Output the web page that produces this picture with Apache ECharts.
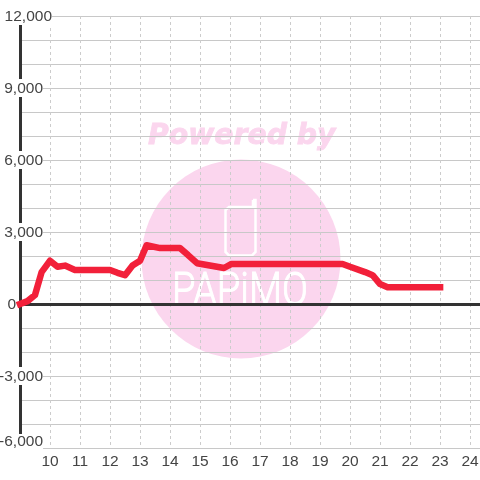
<!DOCTYPE html>
<html>
<head>
<meta charset="utf-8">
<style>html,body{margin:0;padding:0;background:#fff}#chart{width:480px;height:480px}</style>
<script src="https://cdn.jsdelivr.net/npm/echarts@6/dist/echarts.min.js"></script>
</head>
<body>
<div id="chart"></div>
<script>
let hours = [9, 9.25, 9.5, 9.72, 10, 10.25, 10.5, 10.83, 12, 12.25, 12.5, 12.75, 13, 13.22, 13.67, 14.33, 14.6, 14.9, 15.8, 16.05, 19.75, 20, 20.5, 20.75, 21, 21.25, 23];
let values = [0, 120, 375, 1330, 1800, 1550, 1600, 1420, 1420, 1300, 1200, 1600, 1800, 2450, 2330, 2330, 2040, 1700, 1500, 1670, 1670, 1550, 1330, 1200, 830, 700, 700];
let yLabelValues = [12000, 9000, 6000, 3000, 0, -3000, -6000];
let yLabelTexts = ['12,000', '9,000', '6,000', '3,000', '0', '-3,000', '-6,000'];
let xLabelValues = [10, 11, 12, 13, 14, 15, 16, 17, 18, 19, 20, 21, 22, 23, 24];

let textColor = '#444';
let labelFont = 'Liberation Sans';
let myChart = echarts.init(document.getElementById('chart'));

let yLabel = function (value) {
  let i = yLabelValues.indexOf(value);
  if (i < 0) return '';
  let text = yLabelTexts[i];
  if (value === 12000) return '{lab|' + text + '}';
  if (value === 0) return '{lab|' + text + '}{wide| }';
  if (value === -6000) return '{low|' + text + '}{narrow| }';
  return '{lab|' + text + '}{narrow| }';
};

let option = {
  animation: false,
  backgroundColor: '#fff',
  grid: {left: 20, right: 0, top: 16, bottom: 32, outerBoundsMode: 'none'},
  graphic: [
    {type: 'circle', z: -10, shape: {cx: 241, cy: 259, r: 99.5}, style: {fill: '#fbd6ee'}},
    {type: 'text', z: -10, x: 148, y: 123, style: {text: 'Powered by', fill: '#fbd6ee', stroke: '#fbd6ee', lineWidth: 0.8, font: 'italic bold 28.3px "DejaVu Sans"'}},
    {type: 'polyline', z: -9, shape: {points: [[253, 200], [253, 207], [229, 207], [225.5, 210], [225.5, 252], [229, 255.5], [252, 255.5], [255.5, 252], [255.5, 200], [253, 200]]}, style: {stroke: '#fff', lineWidth: 2.5, fill: 'none'}},
    {type: 'text', z: -9, x: 172, y: 270, scaleX: 0.83, style: {text: 'PAPiMO', fill: '#fff', stroke: '#fff', lineWidth: 1, font: '300 46px "Roboto"'}}
  ],
  xAxis: [
    {
      type: 'value',
      min: 9,
      max: 24.33,
      interval: 1,
      axisLine: {show: false, onZero: false},
      axisTick: {show: false},
      axisLabel: {
        color: textColor,
        fontFamily: labelFont,
        fontSize: 15.5,
        margin: 6,
        formatter: function (v) { return xLabelValues.indexOf(v) >= 0 ? String(v) : ''; }
      },
      splitLine: {show: true, lineStyle: {color: '#ccc', width: 1, type: [3, 3]}}
    },
    {
      // heavy zero line
      type: 'value',
      position: 'bottom',
      min: 9,
      max: 24.33,
      axisLine: {show: true, onZero: true, lineStyle: {color: '#333', width: 3}},
      axisTick: {show: false},
      axisLabel: {show: false},
      splitLine: {show: false}
    }
  ],
  yAxis: {
    type: 'value',
    min: -6000,
    max: 12000,
    interval: 1000,
    axisLine: {show: true, onZero: false, lineStyle: {color: '#333', width: 3}},
    axisTick: {show: false},
    splitLine: {show: true, lineStyle: {color: '#c8c8c8', width: 1}},
    axisLabel: {
      inside: true,
      margin: 32,
      align: 'right',
      formatter: yLabel,
      rich: {
        lab: {color: textColor, fontFamily: labelFont, fontSize: 15.5, lineHeight: 15, padding: [2, 0, 0, 0], backgroundColor: '#fff'},
        low: {color: textColor, fontFamily: labelFont, fontSize: 15.5, lineHeight: 15, backgroundColor: '#fff', padding: [0, 0, 12, 0]},
        narrow: {width: 9, fontSize: 1},
        wide: {width: 36, fontSize: 1}
      }
    }
  },
  series: [
    {
      name: 'line',
      type: 'line',
      showSymbol: false,
      clip: false,
      z: 5,
      lineStyle: {color: '#f2203a', width: 6.5, cap: 'square', join: 'round'},
      data: hours.map(function (h, i) { return [h, values[i]]; })
    }
  ]
};
myChart.setOption(option);
</script>
</body>
</html>
